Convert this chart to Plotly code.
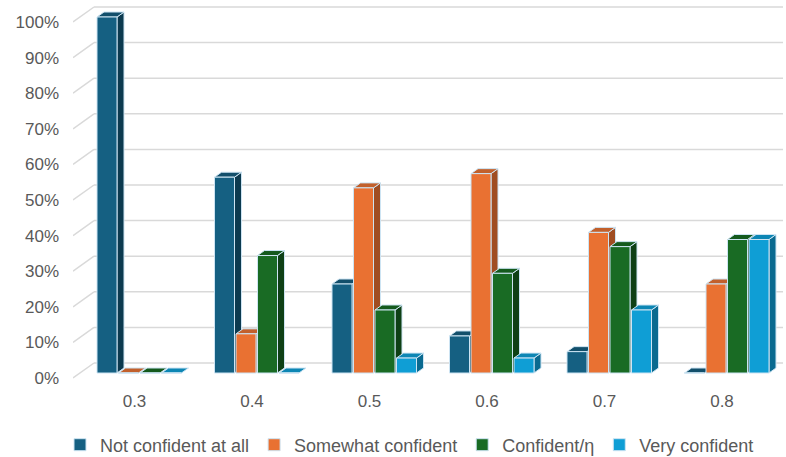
import plotly.graph_objects as go

# ---- data ----
categories = ['0.3', '0.4', '0.5', '0.6', '0.7', '0.8']
series_names = ['Not confident at all', 'Somewhat confident', 'Confident/η', 'Very confident']
not_confident = [100, 55, 25, 10.4, 6, 0]
somewhat_confident = [0, 11, 52, 56, 39.5, 25]
confident = [0, 33, 17.7, 28, 35.5, 37.5]
very_confident = [0, 0, 4.2, 4.2, 17.7, 37.5]
y_ticks = [0, 10, 20, 30, 40, 50, 60, 70, 80, 90, 100]
y_tick_labels = [f'{t}%' for t in y_ticks]

series_values = [not_confident, somewhat_confident, confident, very_confident]
front_colors = ['#156082', '#E97132', '#196B24', '#0F9ED5']
top_colors = ['#124f6b', '#c2602c', '#145a1d', '#0d86b4']
side_colors = ['#0c3a4f', '#a04d22', '#0e4015', '#0a6a90']

# ---- pseudo-3D geometry (pixel based, converted to axis units) ----
PX_X = 117.5          # pixels per category
PX_Y = 3.56           # pixels per percent
bar_w = 20 / PX_X
step = 21.5 / PX_X
first = -37.5 / PX_X
dx = 7 / PX_X         # depth of bar (x)
dy = 5 / PX_Y         # depth of bar (y)
edge = 'rgba(205,228,243,1)'

x_lo, x_hi = -61.5 / PX_X, 651.5 / PX_X
y_lo, y_hi = -12 / PX_Y, 373 / PX_Y

fig = go.Figure()
shapes = []

# back-wall gridlines and wall diagonals
back_left = (94 - 134.5) / PX_X
back_right = (783 - 134.5) / PX_X
wall_dy = 10 / PX_Y
front_dy = -5 / PX_Y
for t in y_ticks:
    shapes.append(dict(type='line', xref='x', yref='y', layer='below',
                       x0=back_left, x1=back_right, y0=t + wall_dy, y1=t + wall_dy,
                       line=dict(color='#d9d9d9', width=1.5)))
    shapes.append(dict(type='line', xref='x', yref='y', layer='below',
                       x0=x_lo, x1=back_left, y0=t + front_dy, y1=t + wall_dy,
                       line=dict(color='#d9d9d9', width=1.5)))

# side and top faces
for i in range(len(categories)):
    for k, vals in enumerate(series_values):
        v = vals[i]
        xl = i + first + k * step
        xr = xl + bar_w
        if v > 0:
            side = f"M{xr},0 L{xr},{v} L{xr+dx},{v+dy} L{xr+dx},{dy} Z"
            shapes.append(dict(type='path', path=side, xref='x', yref='y', layer='below',
                               fillcolor=side_colors[k], line=dict(color=edge, width=1)))
        top = f"M{xl},{v} L{xr},{v} L{xr+dx},{v+dy} L{xl+dx},{v+dy} Z"
        shapes.append(dict(type='path', path=top, xref='x', yref='y', layer='below',
                           fillcolor=top_colors[k], line=dict(color=edge, width=1)))

# front faces as real bars
for k, (name, vals) in enumerate(zip(series_names, series_values)):
    fig.add_trace(go.Bar(
        x=list(range(len(categories))), y=vals, name=name,
        width=bar_w, offset=first + k * step,
        marker=dict(color=front_colors[k], line=dict(color=edge, width=1)),
    ))

fig.update_layout(
    width=786, height=457,
    margin=dict(l=73, r=0, t=0, b=72),
    barmode='overlay',
    plot_bgcolor='white', paper_bgcolor='white',
    font=dict(family='Liberation Sans, Arial, sans-serif', color='#595959'),
    shapes=shapes,
    showlegend=True,
    legend=dict(orientation='h', xref='container', yref='container',
                x=0.521, xanchor='center', y=1 - 445 / 457, yanchor='middle',
                itemwidth=30,
                font=dict(size=18, color='#595959'), traceorder='normal'),
    xaxis=dict(range=[x_lo, x_hi], tickvals=list(range(len(categories))),
               ticktext=categories, showgrid=False, zeroline=False, showline=False,
               ticks='', tickfont=dict(size=17), ticklabelstandoff=4),
    yaxis=dict(range=[y_lo, y_hi], tickmode='array', tickvals=y_ticks,
               ticktext=y_tick_labels,
               showgrid=False, zeroline=False, showline=False, ticks='',
               tickfont=dict(size=17), ticklabelshift=5, ticklabelstandoff=13),
)

fig.write_html('out.html', config={'displayModeBar': False},
               post_script="document.body.style.margin='0';document.body.style.overflow='hidden';")
